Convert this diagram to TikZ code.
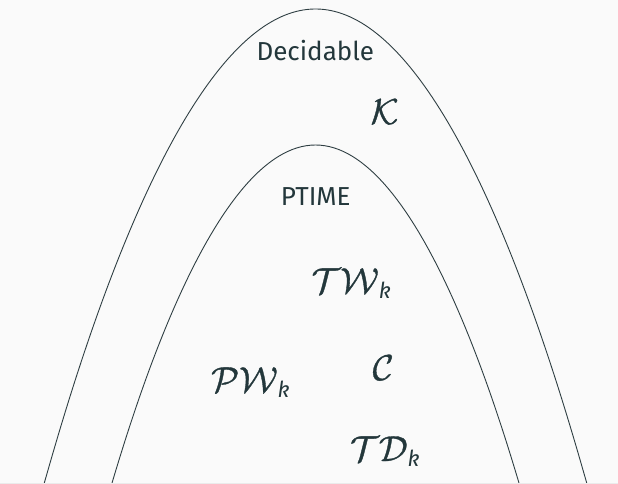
\RequirePackage{fix-cm}
\documentclass[tikz,border=0pt]{standalone}
\usepackage{fontspec}
\setmainfont{Fira Sans}
\setsansfont{Fira Sans}
\definecolor{mDarkTeal}{HTML}{23373B}
\definecolor{bgcol}{HTML}{FAFAFA}
\definecolor{edgecol}{HTML}{EBEBEB}
\definecolor{arccol}{HTML}{2E3E42}
\newcommand{\subk}{\mbox{\fontsize{22}{22}\selectfont\itshape k}}
\newcommand{\heavytext}[1]{\special{pdf:literal 2 Tr 0.35 w}#1\special{pdf:literal 0 Tr}}
\tikzset{
  arch/.style={draw=arccol, line width=0.9pt},
  classlabel/.style={text=mDarkTeal, font=\fontsize{26}{30}\selectfont, anchor=base, inner sep=0pt},
  mathlabel/.style={text=mDarkTeal, font=\fontsize{36}{40}\selectfont, anchor=base west, inner sep=0pt}
}
\begin{document}
\begin{tikzpicture}[x=1pt,y=-1pt]
  \fill[bgcol] (0,0) rectangle (618,484);
  \useasboundingbox (0,0) rectangle (618,484);
  \fill[edgecol] (0,482.6) rectangle (618,484);
  \begin{scope}
    \clip (0,0) rectangle (618,482.6);
    \draw[arch] (44,484) parabola bend (315.5,9) (587,484);
    \draw[arch] (111.7,484) parabola bend (315.5,145) (519.3,484);
  \end{scope}
  \node[classlabel] (dec) at (315.3,60.7) {Decidable};
  \node[classlabel] (ptime) at (315.7,205) {PTIME};
  \node[mathlabel] (K) at (370.5,124) {\heavytext{$\mathcal{K}$}};
  \node[mathlabel] (TW) at (311.4,293) {\heavytext{$\mathcal{T}\mathcal{W}$}$_{\subk}$};
  \node[mathlabel] (PW) at (211,392) {\heavytext{$\mathcal{P}\mathcal{W}$}$_{\subk}$};
  \node[mathlabel] (C) at (372.5,380) {\heavytext{$\mathcal{C}$}};
  \node[mathlabel] (TD) at (350,461) {\heavytext{$\mathcal{T}\mathcal{D}$}$_{\subk}$};
\end{tikzpicture}
\end{document}
